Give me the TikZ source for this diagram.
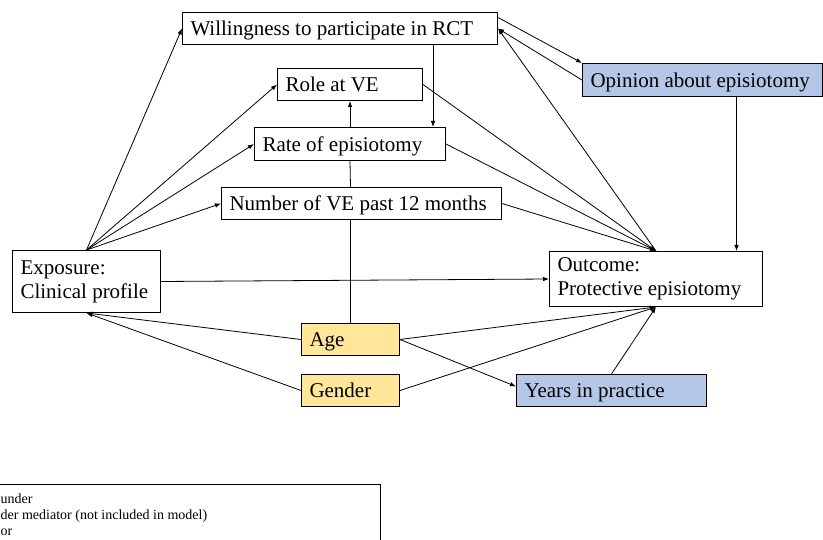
\documentclass[tikz,border=0pt]{standalone}
\usepackage{fontspec}
\setmainfont{Liberation Serif}
\usetikzlibrary{arrows.meta}
\definecolor{confyellow}{HTML}{FFE699}
\definecolor{medblue}{HTML}{B4C7E7}
\begin{document}
\begin{tikzpicture}[
	x=1pt, y=-1pt,
	font=\fontsize{21}{24}\selectfont,
	>={Latex[length=6pt,width=4.5pt]},
	varbox/.style={draw, line width=1pt, fill=white, anchor=north west,
		inner xsep=8pt, inner ysep=0pt, align=flush left},
	oneline/.style={varbox, minimum height=32pt, text height=16.5pt, text depth=1.5pt},
	link/.style={->, line width=.8pt}]
   \useasboundingbox (0,0) rectangle (823,540);
   \node[oneline, text width=299pt](will) at (182,12) {Willingness to participate in RCT};
   \node[oneline, text width=129pt](role) at (277,68) {Role at VE};
   \node[oneline, text width=175pt, minimum height=33pt](rate) at (254,127) {Rate of episiotomy};
   \node[oneline, text width=264pt](number) at (221,187) {Number of VE past 12 months};
   \node[varbox, text width=132pt, minimum height=62pt](exposure) at (12,250) {Exposure:\\Clinical profile};
   \node[varbox, text width=197pt, minimum height=55pt](outcome) at (549,251) {Outcome:\\Protective episiotomy};
   \node[oneline, text width=224pt, minimum height=33pt, fill=medblue](opinion) at (582,63) {Opinion about episiotomy};
   \node[oneline, text width=82pt, fill=confyellow](age) at (301,323) {Age};
   \node[oneline, text width=82pt, fill=confyellow](gender) at (301,374) {Gender};
   \node[oneline, text width=174pt, fill=medblue](years) at (516,374) {Years in practice};
   \draw[link] (exposure.north) -- (will.west);
   \draw[link] (exposure.north) -- (role.west);
   \draw[link] (exposure.north) -- (rate.west);
   \draw[link] (exposure.north) -- (number.west);
   \draw[link] (exposure.east) -- (outcome.west);
   \draw[link] (number.east) -- (outcome.north);
   \draw[link] (rate.east) -- (outcome.north);
   \draw[link] (role.east) -- (outcome.north);
   \draw[link] (outcome.north) -- (will.east);
   \draw[link] ([yshift=11pt]will.east) -- (opinion.north west);
   \draw[link] (opinion.west) -- (will.east);
   \draw[link] ([xshift=34pt]opinion.south) -- ([xshift=34pt]opinion.south |- outcome.north);
   \draw[link] ([xshift=-13pt]rate.north east |- will.south) -- ([xshift=-13pt]rate.north east);
   \draw[link] (rate.north) -- (role.south);
   \draw[line width=.8pt] (age.north) -- (age.north |- number.south);
   \draw[line width=.8pt] (age.north |- number.north) -- (rate.south);
   \draw[link] (age.west) -- (exposure.south);
   \draw[link] (gender.west) -- (exposure.south);
   \draw[link] (age.east) -- (outcome.south);
   \draw[link] (gender.east) -- (outcome.south);
   \draw[link] (age.east) -- ([yshift=4pt]years.west);
   \draw[link] (years.north) -- (outcome.south);
   \draw[line width=1pt] (-5,484) -| (380,545);
   \node[anchor=base west, inner sep=0pt, font=\fontsize{14}{16}\selectfont](leg1) at (0.5,503) {under};
   \node[anchor=base west, inner sep=0pt, font=\fontsize{14}{16}\selectfont](leg2) at (0.5,519) {der mediator (not included in model)};
   \node[anchor=base west, inner sep=0pt, font=\fontsize{14}{16}\selectfont](leg3) at (0.5,535) {or};
\end{tikzpicture}
\end{document}
